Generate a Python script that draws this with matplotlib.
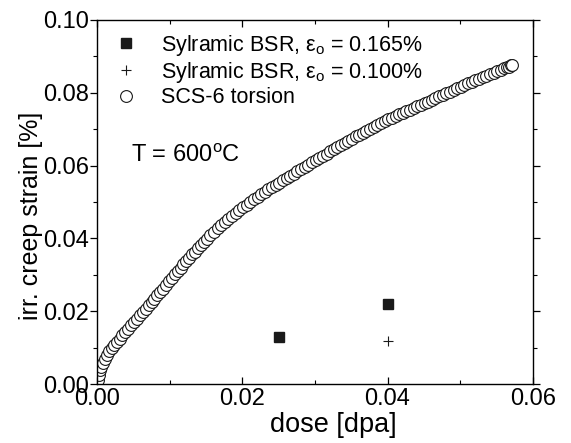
import matplotlib
matplotlib.use("Agg")
import matplotlib.pyplot as plt
from matplotlib.ticker import MultipleLocator, FormatStrFormatter

plt.rcParams['font.family'] = ['Liberation Sans', 'DejaVu Sans']
plt.rcParams['mathtext.fontset'] = 'custom'
plt.rcParams['mathtext.rm'] = 'Liberation Sans'
plt.rcParams['mathtext.it'] = 'Liberation Sans:italic'
plt.rcParams['mathtext.bf'] = 'Liberation Sans:bold'

# SCS-6 torsion data
scs_dose = [0.0000, 0.0001, 0.0002, 0.0004, 0.0006, 0.0008, 0.0011, 0.0014, 0.0017, 0.0020,
            0.0023, 0.0027, 0.0031, 0.0035, 0.0039, 0.0043, 0.0047, 0.0051, 0.0055, 0.0059,
            0.0063, 0.0067, 0.0071, 0.0075, 0.0079, 0.0083, 0.0087, 0.0091, 0.0095, 0.0099,
            0.0103, 0.0107, 0.0111, 0.0115, 0.0119, 0.0123, 0.0127, 0.0131, 0.0135, 0.0139,
            0.0143, 0.0147, 0.0151,
            0.0156, 0.0161, 0.0166, 0.0171, 0.0176, 0.0181, 0.0186, 0.0191, 0.0196, 0.0201,
            0.0206, 0.0211, 0.0216, 0.0221, 0.0226, 0.0231, 0.0236, 0.0241, 0.0246, 0.0251,
            0.0256, 0.0261, 0.0266, 0.0271, 0.0276, 0.0281, 0.0286, 0.0291, 0.0296, 0.0301,
            0.0306, 0.0311, 0.0316, 0.0321, 0.0326, 0.0331, 0.0336, 0.0341, 0.0346, 0.0351,
            0.0356, 0.0361, 0.0366, 0.0371, 0.0376, 0.0381, 0.0386, 0.0391, 0.0396, 0.0401,
            0.0406, 0.0411, 0.0416, 0.0421, 0.0426, 0.0431, 0.0436, 0.0441, 0.0446, 0.0451,
            0.0456, 0.0461, 0.0466, 0.0471, 0.0476, 0.0481, 0.0486, 0.0491, 0.0496, 0.0501,
            0.0506, 0.0511, 0.0516, 0.0521, 0.0526, 0.0531, 0.0536, 0.0541, 0.0546, 0.0551,
            0.0556, 0.0561, 0.0564, 0.0567, 0.0570, 0.0572]
scs_strain = [0.0000, 0.0012, 0.0025, 0.0038, 0.0048, 0.0057, 0.0068, 0.0079, 0.0090, 0.0098,
              0.0106, 0.0116, 0.0125, 0.0134, 0.0143, 0.0152, 0.0162, 0.0171, 0.0180, 0.0189,
              0.0198, 0.0207, 0.0216, 0.0225, 0.0234, 0.0244, 0.0253, 0.0262, 0.0272, 0.0282,
              0.0292, 0.0301, 0.0311, 0.0320, 0.0330, 0.0339, 0.0347, 0.0356, 0.0364, 0.0373,
              0.0381, 0.0390, 0.0399,
              0.0409, 0.0419, 0.0428, 0.0436, 0.0445, 0.0454, 0.0462, 0.0470, 0.0478, 0.0486,
              0.0493, 0.0500, 0.0507, 0.0514, 0.0521, 0.0528, 0.0535, 0.0541, 0.0547, 0.0553,
              0.0560, 0.0566, 0.0572, 0.0578, 0.0584, 0.0590, 0.0596, 0.0602, 0.0609, 0.0615,
              0.0621, 0.0627, 0.0633, 0.0639, 0.0645, 0.0651, 0.0657, 0.0662, 0.0668, 0.0674,
              0.0680, 0.0685, 0.0690, 0.0696, 0.0701, 0.0706, 0.0712, 0.0717, 0.0722, 0.0727,
              0.0732, 0.0736, 0.0741, 0.0745, 0.0750, 0.0754, 0.0758, 0.0763, 0.0767, 0.0772,
              0.0776, 0.0781, 0.0785, 0.0790, 0.0794, 0.0799, 0.0803, 0.0808, 0.0812, 0.0817,
              0.0821, 0.0826, 0.0830, 0.0835, 0.0839, 0.0843, 0.0847, 0.0851, 0.0855, 0.0859,
              0.0863, 0.0867, 0.0870, 0.0872, 0.0875, 0.0876]

# Sylramic BSR data
bsr165_dose = [0.025, 0.040]
bsr165_strain = [0.0129, 0.0219]
bsr100_dose = [0.040]
bsr100_strain = [0.0118]

labels = ["Sylramic BSR, ε$_\\mathrm{o}$ = 0.165%",
          "Sylramic BSR, ε$_\\mathrm{o}$ = 0.100%",
          "SCS-6 torsion"]

fig = plt.figure(figsize=(5.71, 4.43), dpi=100)
ax = fig.add_axes([0.170, 0.133, 0.763, 0.822])

h1, = ax.plot(bsr165_dose, bsr165_strain, ls='none', marker='s', ms=7,
              color='#1a1a1a', label=labels[0])
h2, = ax.plot(bsr100_dose, bsr100_strain, ls='none', marker='+', ms=7, mew=0.8,
              color='#1a1a1a', label=labels[1])
h3, = ax.plot(scs_dose, scs_strain, ls='none', marker='o', ms=8.5, mfc='white',
              mec='#1a1a1a', mew=0.8, label=labels[2])

ax.set_xlim(0, 0.06)
ax.set_ylim(0, 0.10)
ax.xaxis.set_major_locator(MultipleLocator(0.02))
ax.xaxis.set_minor_locator(MultipleLocator(0.01))
ax.yaxis.set_major_locator(MultipleLocator(0.02))
ax.yaxis.set_minor_locator(MultipleLocator(0.01))
ax.xaxis.set_major_formatter(FormatStrFormatter('%.2f'))
ax.yaxis.set_major_formatter(FormatStrFormatter('%.2f'))

ax.tick_params(axis='x', which='both', direction='in', top=True, labelsize=17, pad=3)
ax.tick_params(axis='y', which='both', direction='out', right=True, labelsize=17, pad=1)
ax.tick_params(which='major', length=5, width=0.9)
ax.tick_params(which='minor', length=3, width=0.8)
for s in ax.spines.values():
    s.set_linewidth(1.0)

ax.set_xlabel("dose [dpa]", fontsize=19.5)
ax.set_ylabel("irr. creep strain [%]", fontsize=18)
ax.xaxis.set_label_coords(0.543, -0.078)
ax.yaxis.set_label_coords(-0.125, 0.4615)

ax.text(0.0047, 0.0627, r"T = 600$^\mathrm{o}$C", fontsize=17, va='center', ha='left')

leg = ax.legend(handles=[h1, h2, h3], loc='upper left', frameon=False, fontsize=15.5,
                handlelength=1.0, handletextpad=1.15, labelspacing=0.1,
                borderaxespad=0.2, bbox_to_anchor=(0.012, 1.0))

fig.savefig("out.png", dpi=100)
